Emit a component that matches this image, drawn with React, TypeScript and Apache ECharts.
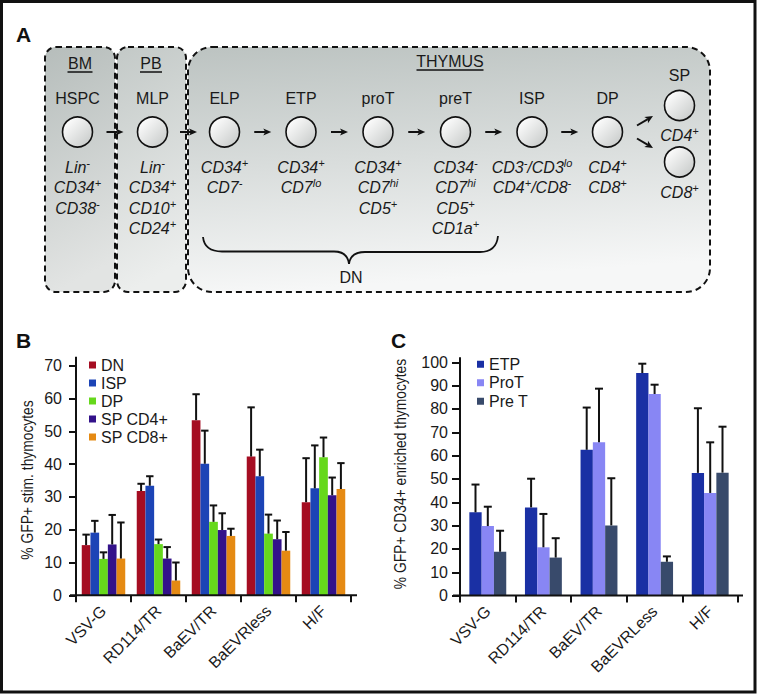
import React, { useEffect, useRef } from 'react';
import * as echarts from 'echarts';

// ---------- Panel B data ----------
const categoriesB = ['VSV-G', 'RD114/TR', 'BaEV/TR', 'BaEVRless', 'H/F'];
const namesB = ['DN', 'ISP', 'DP', 'SP CD4+', 'SP CD8+'];
const dnB = [15.3, 31.8, 53.4, 42.3, 28.4];
const ispB = [19.1, 33.4, 40.1, 36.3, 32.6];
const dpB = [11.1, 15.6, 22.4, 18.8, 42.1];
const sp4B = [15.5, 11.2, 19.9, 17.1, 30.5];
const sp8B = [11.2, 4.5, 18.1, 13.6, 32.4];
const dnErrTopB = [18.5, 34.0, 61.3, 57.3, 41.8];
const ispErrTopB = [22.7, 36.3, 50.2, 44.4, 45.7];
const dpErrTopB = [13.1, 17.0, 27.4, 24.6, 48.1];
const sp4ErrTopB = [24.5, 14.7, 25.0, 22.8, 35.9];
const sp8ErrTopB = [22.2, 10.0, 20.3, 19.3, 40.3];
const yTicksB = { min: 0, max: 70, interval: 10 };

// ---------- Panel C data ----------
const categoriesC = ['VSV-G', 'RD114/TR', 'BaEV/TR', 'BaEVRLess', 'H/F'];
const namesC = ['ETP', 'ProT', 'Pre T'];
const etpC = [35.7, 37.8, 62.5, 95.4, 52.6];
const protC = [29.8, 20.7, 65.7, 86.4, 44.0];
const pretC = [18.8, 16.3, 30.1, 14.5, 52.7];
const etpErrTopC = [47.6, 50.1, 80.6, 99.4, 80.3];
const protErrTopC = [38.1, 35.0, 88.7, 90.4, 65.7];
const pretErrTopC = [27.8, 24.6, 50.3, 16.8, 72.4];
const yTicksC = { min: 0, max: 100, interval: 10 };

// ---------- Panel A content ----------
const stageNames = ['HSPC', 'MLP', 'ELP', 'ETP', 'proT', 'preT', 'ISP', 'DP'];
// each marker line: list of [base, superscript]
const stageMarkers: [string, string][][][] = [
  [[['Lin', '-']], [['CD34', '+']], [['CD38', '-']]],
  [[['Lin', '-']], [['CD34', '+']], [['CD10', '+']], [['CD24', '+']]],
  [[['CD34', '+']], [['CD7', '-']]],
  [[['CD34', '+']], [['CD7', 'lo']]],
  [[['CD34', '+']], [['CD7', 'hi']], [['CD5', '+']]],
  [[['CD34', '-']], [['CD7', 'hi']], [['CD5', '+']], [['CD1a', '+']]],
  [[['CD3', '-'], ['/CD3', 'lo']], [['CD4', '+'], ['/CD8', '-']]],
  [[['CD4', '+']], [['CD8', '+']]],
];
const spName = 'SP';
const spMarkers: [string, string][] = [['CD4', '+'], ['CD8', '+']];
const compartmentNames = ['BM', 'PB', 'THYMUS'];
const braceLabel = 'DN';

// ---------- layout / style ----------
const FONT = '"Liberation Sans", Arial, Helvetica, sans-serif';
const TXT = '#1a1a1a';
const colorsB = ['#a50d22', '#1c44b6', '#66d81c', '#33128a', '#e58a13'];
const colorsC = ['#1a30a4', '#8886f4', '#384a6b'];
const GB = { left: 76, top: 365.7, width: 275, height: 229.6 };
const GC = { left: 460, top: 362.3, width: 278, height: 233.3 };
const BW_B = 8.7;
const BW_C = 12.3;
const stageX = [77.5, 152.5, 224.5, 301, 378, 455.5, 532, 607.5];
const spX = 679.5;
const circleY = 132;
const nameY = 98;
const markerRowsY = [167, 187.5, 208, 228.5];

function richText(segs: [string, string][]) {
  return segs.map(([b, s]) => `{b|${b}}` + (s ? `{s|${s}}` : '')).join('');
}

const richStyles = {
  b: { fontSize: 16, fontStyle: 'italic', fontFamily: FONT, fill: TXT, lineHeight: 20, verticalAlign: 'middle' },
  s: { fontSize: 11, fontStyle: 'italic', fontFamily: FONT, fill: TXT, lineHeight: 10, verticalAlign: 'top' },
};

function plainText(x: number, y: number, text: string, size = 16, extra: any = {}) {
  return {
    type: 'text', x, y, z: 10,
    style: { text, fontSize: size, fontFamily: FONT, fill: TXT, align: 'center', verticalAlign: 'middle', ...extra },
  };
}

function markerText(x: number, y: number, segs: [string, string][]) {
  return {
    type: 'text', x, y, z: 10,
    style: { text: richText(segs), align: 'center', verticalAlign: 'middle', rich: richStyles, fontSize: 16, fontFamily: FONT, fill: TXT },
  };
}

function arrow(x1: number, y1: number, x2: number, y2: number) {
  const dx = x2 - x1, dy = y2 - y1;
  const len = Math.sqrt(dx * dx + dy * dy);
  const ux = dx / len, uy = dy / len;
  const hl = 8, hw = 3.6;
  const bx = x2 - ux * hl, by = y2 - uy * hl;
  const nx = -uy, ny = ux;
  return [
    { type: 'line', z: 10, shape: { x1, y1, x2: bx + ux * 2, y2: by + uy * 2 }, style: { stroke: '#111', lineWidth: 2 } },
    {
      type: 'polygon', z: 10,
      shape: { points: [[x2, y2], [bx + nx * hw, by + ny * hw], [bx + ux * 2, by + uy * 2], [bx - nx * hw, by - ny * hw]] },
      style: { fill: '#111' },
    },
  ];
}

function circle(cx: number, cy: number) {
  return {
    type: 'circle', z: 10, shape: { cx, cy, r: 15 },
    style: {
      fill: new echarts.graphic.LinearGradient(0.1, 0.1, 0.9, 0.9, [
        { offset: 0, color: '#ffffff' }, { offset: 1, color: '#c9cccb' },
      ]),
      stroke: '#111', lineWidth: 1.6,
    },
  };
}

function boxFill(top: string, bottom: string) {
  return new echarts.graphic.LinearGradient(0, 0, 0.15, 1, [
    { offset: 0, color: top }, { offset: 1, color: bottom },
  ]);
}

function buildPanelA(): any[] {
  const els: any[] = [];
  const dash = { stroke: '#111', lineWidth: 2, lineDash: [6, 4] };
  els.push({ type: 'rect', z: 1, shape: { x: 45, y: 47, width: 70, height: 245, r: 11 }, style: { fill: boxFill('#b6bdbb', '#e2e4e3'), ...dash } });
  els.push({ type: 'rect', z: 2, shape: { x: 117, y: 47, width: 69, height: 245, r: 11 }, style: { fill: boxFill('#c3c9c7', '#eceeed'), ...dash } });
  els.push({ type: 'rect', z: 2, shape: { x: 188, y: 47, width: 522, height: 245, r: 24 }, style: { fill: boxFill('#bcc3c1', '#f6f7f7'), ...dash } });

  // compartment titles with underline
  const titlePos = [[80, 63, 25], [151, 63, 22], [450, 61, 67]];
  compartmentNames.forEach((n, i) => {
    const [x, y, w] = titlePos[i];
    els.push(plainText(x, y, n));
    els.push({ type: 'line', z: 10, shape: { x1: x - w / 2, y1: y + 9, x2: x + w / 2, y2: y + 9 }, style: { stroke: '#111', lineWidth: 1.5 } });
  });

  stageNames.forEach((n, i) => {
    const x = stageX[i];
    els.push(plainText(x, nameY, n));
    els.push(circle(x, circleY));
    stageMarkers[i].forEach((segs, r) => els.push(markerText(x, markerRowsY[r], segs)));
    if (i < stageNames.length - 1) {
      const mid = (stageX[i] + stageX[i + 1]) / 2;
      els.push(...arrow(mid - 8.5, circleY, mid + 8.5, circleY));
    }
  });

  // SP
  els.push(plainText(spX, 75, spName));
  els.push(circle(spX, 105.5));
  els.push(circle(spX, 162));
  els.push(markerText(spX, 135, [spMarkers[0]]));
  els.push(markerText(spX, 192, [spMarkers[1]]));
  els.push(...arrow(637, 125.5, 653, 116));
  els.push(...arrow(637, 138.5, 653, 148));

  // DN brace
  const bs = { stroke: '#111', lineWidth: 1.8, fill: 'none' };
  els.push({ type: 'bezierCurve', z: 10, shape: { x1: 203, y1: 237, x2: 222, y2: 251.5, cpx1: 204, cpy1: 247, cpx2: 211, cpy2: 251.5 }, style: bs });
  els.push({ type: 'line', z: 10, shape: { x1: 222, y1: 251.5, x2: 334, y2: 251.5 }, style: bs });
  els.push({ type: 'bezierCurve', z: 10, shape: { x1: 334, y1: 251.5, x2: 349, y2: 264, cpx1: 344, cpy1: 251.5, cpx2: 348, cpy2: 256 }, style: bs });
  els.push({ type: 'bezierCurve', z: 10, shape: { x1: 349, y1: 264, x2: 365, y2: 252, cpx1: 350, cpy1: 256, cpx2: 355, cpy2: 252 }, style: bs });
  els.push({ type: 'line', z: 10, shape: { x1: 365, y1: 252, x2: 480, y2: 252 }, style: bs });
  els.push({ type: 'bezierCurve', z: 10, shape: { x1: 480, y1: 252, x2: 498, y2: 236, cpx1: 491, cpy1: 252, cpx2: 497, cpy2: 246 }, style: bs });
  els.push(plainText(351, 277, braceLabel));
  return els;
}

function errorSeries(name: string, cats: string[], vals: number[], tops: number[], idx: number, n: number, bw: number, axis: number) {
  const offset = (idx - (n - 1) / 2) * bw;
  const cap = Math.min(bw * 0.85, 8);
  return {
    type: 'custom', name, xAxisIndex: axis, yAxisIndex: axis, z: 5,
    encode: { x: 0, y: 1 },
    data: cats.map((_, j) => [j, tops[j], vals[j]]),
    renderItem: (params: any, api: any) => {
      const j = api.value(0);
      const top = api.coord([j, api.value(1)]);
      const base = api.coord([j, api.value(2)]);
      const x = top[0] + offset;
      return {
        type: 'group',
        children: [
          { type: 'line', shape: { x1: x, y1: base[1], x2: x, y2: top[1] }, style: { stroke: '#111', lineWidth: 2 } },
          { type: 'line', shape: { x1: x - cap / 2, y1: top[1], x2: x + cap / 2, y2: top[1] }, style: { stroke: '#111', lineWidth: 2 } },
        ],
      };
    },
  };
}

function buildOption() {
  const valsB = [dnB, ispB, dpB, sp4B, sp8B];
  const topsB = [dnErrTopB, ispErrTopB, dpErrTopB, sp4ErrTopB, sp8ErrTopB];
  const valsC = [etpC, protC, pretC];
  const topsC = [etpErrTopC, protErrTopC, pretErrTopC];

  const series: any[] = [];
  namesB.forEach((n, i) => series.push({
    type: 'bar', name: n, xAxisIndex: 0, yAxisIndex: 0, data: valsB[i], barWidth: BW_B, barGap: '0%',
    itemStyle: { color: colorsB[i] }, z: 2,
  }));
  namesC.forEach((n, i) => series.push({
    type: 'bar', name: n, xAxisIndex: 1, yAxisIndex: 1, data: valsC[i], barWidth: BW_C, barGap: '0%',
    itemStyle: { color: colorsC[i] }, z: 2,
  }));
  namesB.forEach((n, i) => series.push(errorSeries(n + ' err', categoriesB, valsB[i], topsB[i], i, namesB.length, BW_B, 0)));
  namesC.forEach((n, i) => series.push(errorSeries(n + ' err', categoriesC, valsC[i], topsC[i], i, namesC.length, BW_C, 1)));

  const tick = { show: true, length: 7, lineStyle: { color: '#111', width: 2 } };
  const xLabel = { rotate: 45, fontSize: 16, fontFamily: FONT, color: TXT, margin: 13, interval: 0 };
  const yLabel = { fontSize: 16, fontFamily: FONT, color: TXT };

  const axisLines = [
    { type: 'line', z: 20, shape: { x1: GB.left - 6, y1: GB.top + GB.height, x2: GB.left + GB.width + 6, y2: GB.top + GB.height }, style: { stroke: '#111', lineWidth: 2 } },
    { type: 'line', z: 20, shape: { x1: GB.left, y1: GB.top - 9, x2: GB.left, y2: GB.top + GB.height }, style: { stroke: '#111', lineWidth: 2 } },
    { type: 'line', z: 20, shape: { x1: GC.left - 7, y1: GC.top + GC.height, x2: GC.left + GC.width + 5, y2: GC.top + GC.height }, style: { stroke: '#111', lineWidth: 2 } },
    { type: 'line', z: 20, shape: { x1: GC.left, y1: GC.top - 5, x2: GC.left, y2: GC.top + GC.height }, style: { stroke: '#111', lineWidth: 2 } },
  ];

  const panelLabels = [
    { type: 'text', x: 16, y: 34, style: { text: 'A', fontSize: 21, fontWeight: 'bold', fontFamily: FONT, fill: '#111', align: 'left', verticalAlign: 'middle' } },
    { type: 'text', x: 16, y: 340, style: { text: 'B', fontSize: 21, fontWeight: 'bold', fontFamily: FONT, fill: '#111', align: 'left', verticalAlign: 'middle' } },
    { type: 'text', x: 391, y: 340, style: { text: 'C', fontSize: 21, fontWeight: 'bold', fontFamily: FONT, fill: '#111', align: 'left', verticalAlign: 'middle' } },
  ];

  const yTitles = [
    { type: 'text', x: 27, y: 480, rotation: Math.PI / 2, scaleX: 0.865, style: { text: '% GFP+ stim. thymocytes', fontSize: 16, fontFamily: FONT, fill: TXT, align: 'center', verticalAlign: 'middle' } },
    { type: 'text', x: 400, y: 474, rotation: Math.PI / 2, scaleX: 0.865, style: { text: '% GFP+ CD34+ enriched thymocytes', fontSize: 16, fontFamily: FONT, fill: TXT, align: 'center', verticalAlign: 'middle' } },
  ];

  const border = { type: 'rect', z: 30, shape: { x: 1.5, y: 1.5, width: 753.5, height: 690.5 }, style: { fill: 'none', stroke: '#111', lineWidth: 3 } };

  return {
    animation: false,
    backgroundColor: '#ffffff',
    textStyle: { fontFamily: FONT },
    grid: [
      { left: GB.left, top: GB.top, width: GB.width, height: GB.height, containLabel: false, outerBoundsMode: 'none' },
      { left: GC.left, top: GC.top, width: GC.width, height: GC.height, containLabel: false, outerBoundsMode: 'none' },
    ],
    xAxis: [
      { gridIndex: 0, type: 'category', data: categoriesB, axisLine: { show: false }, axisTick: tick, axisLabel: xLabel },
      { gridIndex: 1, type: 'category', data: categoriesC, axisLine: { show: false }, axisTick: tick, axisLabel: xLabel },
    ],
    yAxis: [
      { gridIndex: 0, type: 'value', ...yTicksB, axisLine: { show: false }, axisTick: tick, splitLine: { show: false }, axisLabel: { ...yLabel, margin: 14 } },
      { gridIndex: 1, type: 'value', ...yTicksC, axisLine: { show: false }, axisTick: { ...tick, length: 8 }, splitLine: { show: false }, axisLabel: { ...yLabel, margin: 12 } },
    ],
    legend: [
      {
        data: namesB, orient: 'vertical', left: 89, top: 356, itemWidth: 7, itemHeight: 7, itemGap: 0, itemTextGap: 7,
        icon: 'rect', selectedMode: false, padding: 0,
        textStyle: { fontSize: 16, lineHeight: 18, color: TXT, fontFamily: FONT },
      },
      {
        data: namesC, orient: 'vertical', left: 477, top: 355, itemWidth: 7, itemHeight: 7, itemGap: 0, itemTextGap: 8,
        icon: 'rect', selectedMode: false, padding: 0,
        textStyle: { fontSize: 16, lineHeight: 18.5, color: TXT, fontFamily: FONT },
      },
    ],
    graphic: { elements: [...buildPanelA(), ...axisLines, ...panelLabels, ...yTitles, border] },
    series,
  };
}

export default function App() {
  const ref = useRef<HTMLDivElement>(null);
  useEffect(() => {
    if (!ref.current) return;
    const chart = echarts.init(ref.current, undefined, { renderer: 'svg' });
    chart.setOption(buildOption() as any);
    return () => chart.dispose();
  }, []);
  return (
    <div
      ref={ref}
      style={{ position: 'fixed', left: 0, top: 0, width: 760, height: 695, background: '#fff' }}
    />
  );
}
